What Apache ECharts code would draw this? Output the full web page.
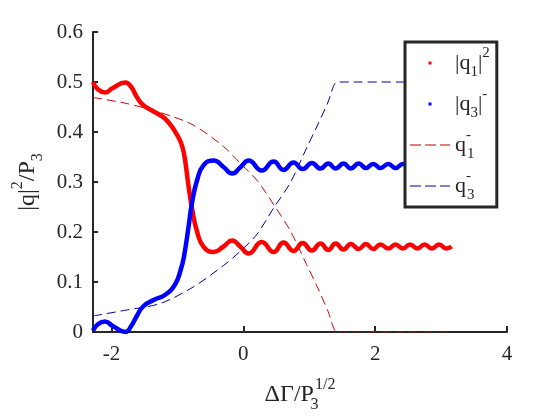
<!DOCTYPE html>
<html><head><meta charset="utf-8">
<script src="https://cdn.jsdelivr.net/npm/echarts@6/dist/echarts.min.js"></script>
<style>html,body{margin:0;padding:0;background:#fff}#c{width:560px;height:420px}</style>
</head><body><div id="c"></div>
<script>
// thick curves |q1|^2 and |q3|^2 (normalised by P3)
const solidX = [-2.28, -2.21, -2.10, -1.98, -1.79, -1.70, -1.62, -1.52, -1.36, -1.19, -1.04, -0.95, -0.90, -0.83, -0.78, -0.70, -0.60, -0.45, -0.30, -0.17, -0.04, 0.08, 0.28, 0.46, 0.61, 0.76, 0.90, 1.04, 1.17, 1.29, 1.40, 1.52, 1.63, 1.75, 1.86, 1.97, 2.08, 2.20, 2.31, 2.42, 2.53, 2.64, 2.75, 2.86, 2.97, 3.08, 3.16];
const q1SqVals = [0.500, 0.486, 0.479, 0.488, 0.499, 0.490, 0.471, 0.454, 0.441, 0.427, 0.402, 0.380, 0.357, 0.291, 0.249, 0.200, 0.170, 0.160, 0.171, 0.183, 0.170, 0.157, 0.180, 0.160, 0.179, 0.162, 0.178, 0.163, 0.177, 0.164, 0.177, 0.165, 0.176, 0.166, 0.176, 0.166, 0.175, 0.167, 0.175, 0.167, 0.175, 0.167, 0.175, 0.167, 0.175, 0.167, 0.171];
const q3SqVals = [0.003, 0.015, 0.021, 0.012, 0.000, 0.012, 0.031, 0.051, 0.064, 0.074, 0.094, 0.124, 0.151, 0.211, 0.257, 0.304, 0.334, 0.343, 0.330, 0.317, 0.330, 0.343, 0.323, 0.341, 0.324, 0.339, 0.326, 0.338, 0.327, 0.337, 0.327, 0.337, 0.327, 0.337, 0.328, 0.336, 0.328, 0.336, 0.328, 0.336, 0.328, 0.336, 0.328, 0.336, 0.328, 0.336, 0.332];
// dashed curves q1^- and q3^-
const dashX = [-2.28, -1.77, -1.26, -0.76, -0.30, -0.05, 0.21, 0.46, 0.71, 0.96, 1.12, 1.28, 1.42, 1.50, 3.10];
const q1Vals = [0.469, 0.457, 0.439, 0.414, 0.371, 0.338, 0.303, 0.255, 0.203, 0.135, 0.091, 0.043, 0.000, 0.000, 0.000];
const q3Vals = [0.032, 0.044, 0.057, 0.090, 0.133, 0.161, 0.196, 0.248, 0.298, 0.368, 0.412, 0.458, 0.500, 0.500, 0.500];
const xTickVals = [-2, 0, 2, 4];
const seriesNames = ['|q1|^2', '|q3|^-', 'q1^-', 'q3^-'];
const legendLabels = {
  '|q1|^2': '{m||q}{sub|1}{m||}{sup|2}',
  '|q3|^-': '{m||q}{sub|3}{m||}{sup|-}',
  'q1^-': '{m|q}{supz|-}{sub|1}',
  'q3^-': '{m|q}{supz|-}{sub|3}'
};

const FONT = 'Liberation Serif';
const INK = '#262626';
const pairs = (xs, ys) => xs.map((x, i) => [x, ys[i]]);

const chart = echarts.init(document.getElementById('c'));
const nameRich = {
  m: {fontFamily: FONT, fontSize: 24, color: INK, lineHeight: 36},
  sub: {fontFamily: FONT, fontSize: 16, color: INK, lineHeight: 16, verticalAlign: 'bottom'},
  subz: {fontFamily: FONT, fontSize: 16, color: INK, lineHeight: 16, verticalAlign: 'bottom', width: 1},
  sup: {fontFamily: FONT, fontSize: 16, color: INK, lineHeight: 16, verticalAlign: 'top'}
};
const legRich = {
  m: {fontFamily: FONT, fontSize: 22, color: INK, lineHeight: 34},
  sub: {fontFamily: FONT, fontSize: 15, color: INK, lineHeight: 15, verticalAlign: 'bottom'},
  sup: {fontFamily: FONT, fontSize: 15, color: INK, lineHeight: 15, verticalAlign: 'top'},
  supz: {fontFamily: FONT, fontSize: 15, color: INK, lineHeight: 20, verticalAlign: 'top', width: 1}
};
const dotIcon = 'path://M0,0M40,14M18.5,5.5h3v3h-3z';
const dashIcon = 'path://M0,0M40,14M0,6.5h11v1h-11zM15,6.5h11v1h-11zM30,6.5h10v1h-10z';

chart.setOption({
  animation: false,
  backgroundColor: '#fff',
  grid: {left: 93, right: 53, top: 32, bottom: 88, containLabel: false, outerBoundsMode: 'none'},
  xAxis: {
    type: 'value', min: -2.28, max: 4,
    name: '{m|ΔΓ/P}{subz|3}{sup|1/2}',
    nameLocation: 'middle', nameGap: 45,
    nameTextStyle: {rich: nameRich},
    axisLine: {onZero: false, lineStyle: {color: INK, width: 2}},
    axisTick: {inside: true, length: 6, customValues: xTickVals, lineStyle: {color: INK, width: 2}},
    axisLabel: {customValues: xTickVals, margin: 12, fontFamily: FONT, fontSize: 21, color: INK},
    splitLine: {show: false}
  },
  yAxis: {
    type: 'value', min: 0, max: 0.6, interval: 0.1,
    name: '{m||q|}{sup|2}{m|/P}{sub|3}',
    nameLocation: 'middle', nameGap: 42, nameRotate: 90,
    nameTextStyle: {rich: nameRich},
    axisLine: {show: true, onZero: false, lineStyle: {color: INK, width: 2}},
    axisTick: {show: true, inside: true, length: 5, lineStyle: {color: INK, width: 2}},
    axisLabel: {margin: 10, fontFamily: FONT, fontSize: 21, color: INK},
    splitLine: {show: false}
  },
  legend: {
    orient: 'vertical', left: 405, top: 42,
    padding: [4, 7, 4, 5],
    itemWidth: 40, itemHeight: 14, itemGap: 7, itemTextGap: 2,
    backgroundColor: '#fff', borderColor: INK, borderWidth: 3,
    selectedMode: false,
    formatter: name => legendLabels[name],
    textStyle: {fontFamily: FONT, fontSize: 22, color: INK, rich: legRich},
    data: [
      {name: seriesNames[0], icon: dotIcon, itemStyle: {color: '#ff0000', borderWidth: 0}},
      {name: seriesNames[1], icon: dotIcon, itemStyle: {color: '#0000ff', borderWidth: 0}},
      {name: seriesNames[2], icon: dashIcon, itemStyle: {color: '#cc0000', borderWidth: 0}},
      {name: seriesNames[3], icon: dashIcon, itemStyle: {color: '#000099', borderWidth: 0}}
    ]
  },
  series: [
    {name: seriesNames[0], type: 'line', data: pairs(solidX, q1SqVals), smooth: 0.5, showSymbol: false, symbol: 'none',
      lineStyle: {color: '#ff0000', width: 4.5}, itemStyle: {color: '#ff0000'}, z: 3},
    {name: seriesNames[1], type: 'line', data: pairs(solidX, q3SqVals), smooth: 0.5, showSymbol: false, symbol: 'none',
      lineStyle: {color: '#0000ff', width: 4.5}, itemStyle: {color: '#0000ff'}, z: 3},
    {name: seriesNames[2], type: 'line', data: pairs(dashX, q1Vals), smooth: 0.3, showSymbol: false, symbol: 'none',
      lineStyle: {color: '#cc0000', width: 1, type: [9, 5]}, itemStyle: {color: '#cc0000'}, z: 2},
    {name: seriesNames[3], type: 'line', data: pairs(dashX, q3Vals), smooth: 0.3, showSymbol: false, symbol: 'none',
      lineStyle: {color: '#000099', width: 1, type: [9, 5]}, itemStyle: {color: '#000099'}, z: 2}
  ]
});
</script></body></html>
